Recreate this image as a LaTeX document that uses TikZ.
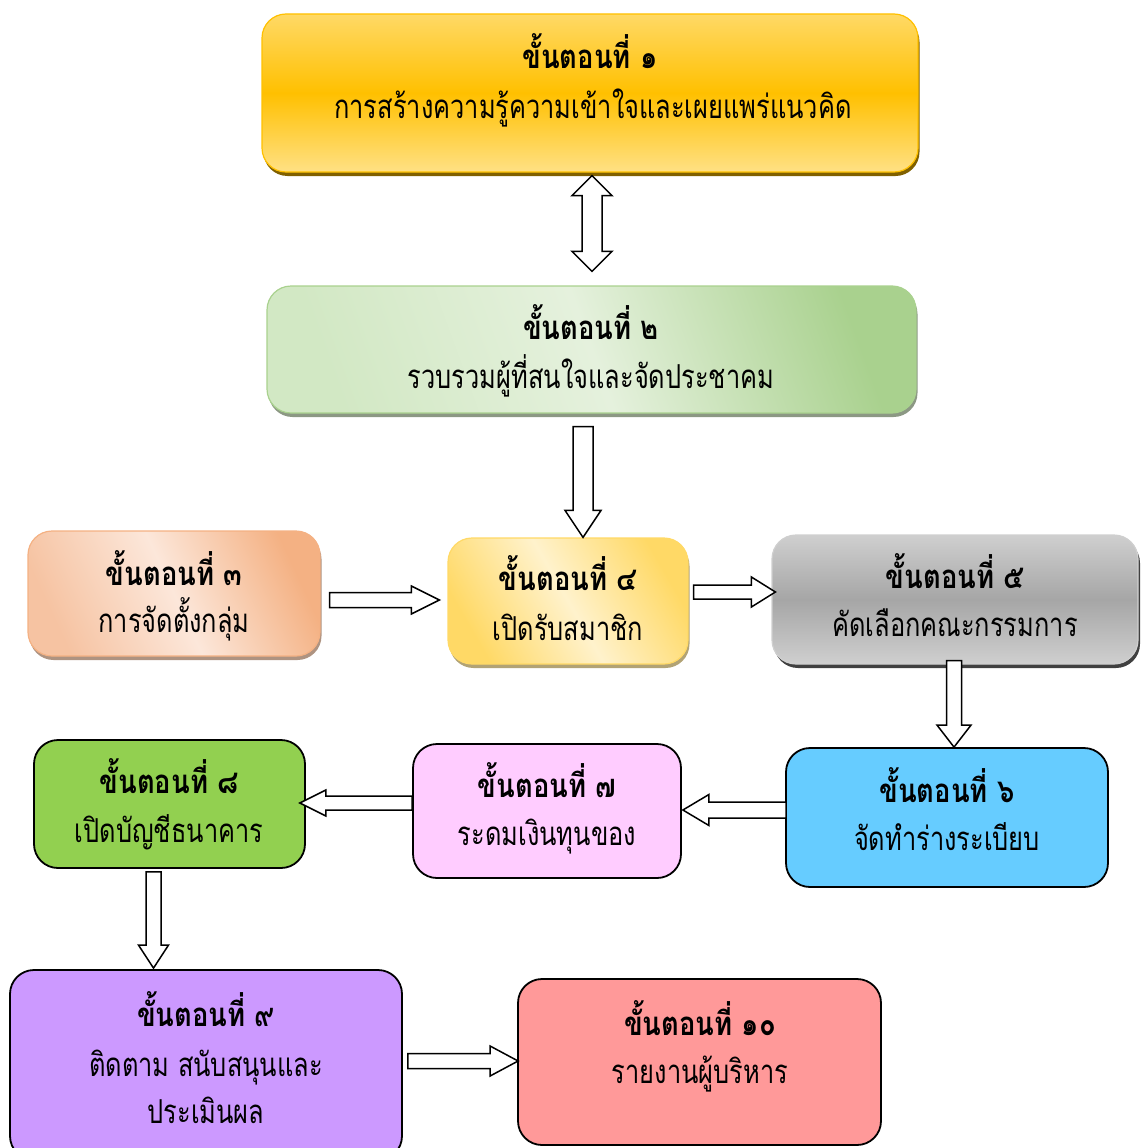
\documentclass[tikz,border=0pt]{standalone}
\usepackage{fontspec}
\newfontfamily\thai[Script=Thai, FakeStretch=0.77]{Loma}
\newfontfamily\thaititle[Script=Thai, FakeStretch=0.83]{Loma}
\usetikzlibrary{calc,shadows}

\definecolor{yA}{HTML}{FFD966}
\definecolor{yB}{HTML}{FFC000}
\definecolor{yS}{HTML}{806000}
\definecolor{gA}{HTML}{A9D18E}
\definecolor{gB}{HTML}{E5F1DD}
\definecolor{gC}{HTML}{D2E8C4}
\definecolor{oA}{HTML}{F4B183}
\definecolor{oB}{HTML}{FCE7DA}
\definecolor{oC}{HTML}{F6C3A2}
\definecolor{lyA}{HTML}{FFD966}
\definecolor{lyB}{HTML}{FFF2CC}
\definecolor{gyA}{HTML}{CFCFCF}
\definecolor{gyB}{HTML}{A6A6A6}
\definecolor{gyS}{HTML}{404040}
\definecolor{cSix}{HTML}{66CCFF}
\definecolor{cSeven}{HTML}{FFCCFF}
\definecolor{cEight}{HTML}{92D050}
\definecolor{cNine}{HTML}{CC99FF}
\definecolor{cTen}{HTML}{FF9999}

\tikzset{
  stepbox/.style={rounded corners=24pt, inner sep=0pt},
  plainbox/.style={stepbox, draw=black, line width=1.8pt},
  titletext/.style={font=\thaititle\bfseries\fontsize{33}{38}\selectfont, anchor=base, inner sep=0pt},
  bodytext/.style={font=\thai\fontsize{33}{38}\selectfont, anchor=base, inner sep=0pt},
  blockarrow/.style={draw=black, fill=white, line width=1.5pt, line join=miter},
}

% single block arrow: #1 from, #2 to (tip), #3 shaft half width, #4 head half width, #5 head length
\newcommand\blockarr[5]{%
  \path[blockarrow] let \p1=(#1), \p2=(#2), \n1={atan2(\y2-\y1,\x2-\x1)} in
    ($(\p1)+(\n1+90:#3pt)$) --
    ($(\p2)+(\n1+180:#5pt)+(\n1+90:#3pt)$) --
    ($(\p2)+(\n1+180:#5pt)+(\n1+90:#4pt)$) --
    (\p2) --
    ($(\p2)+(\n1+180:#5pt)+(\n1-90:#4pt)$) --
    ($(\p2)+(\n1+180:#5pt)+(\n1-90:#3pt)$) --
    ($(\p1)+(\n1-90:#3pt)$) -- cycle;}

% double block arrow
\newcommand\dblockarr[5]{%
  \path[blockarrow] let \p1=(#1), \p2=(#2), \n1={atan2(\y2-\y1,\x2-\x1)} in
    (\p1) --
    ($(\p1)+(\n1:#5pt)+(\n1+90:#4pt)$) --
    ($(\p1)+(\n1:#5pt)+(\n1+90:#3pt)$) --
    ($(\p2)+(\n1+180:#5pt)+(\n1+90:#3pt)$) --
    ($(\p2)+(\n1+180:#5pt)+(\n1+90:#4pt)$) --
    (\p2) --
    ($(\p2)+(\n1+180:#5pt)+(\n1-90:#4pt)$) --
    ($(\p2)+(\n1+180:#5pt)+(\n1-90:#3pt)$) --
    ($(\p1)+(\n1:#5pt)+(\n1-90:#3pt)$) --
    ($(\p1)+(\n1:#5pt)+(\n1-90:#4pt)$) -- cycle;}

\begin{document}
\begin{tikzpicture}[x=1pt,y=-1pt]
\useasboundingbox (0,0) rectangle (1141,1148);

% ---------- boxes ----------
\node[stepbox, draw=yB, line width=1.2pt, top color=yA, bottom color=yA!80!white, middle color=yB,
      drop shadow={shadow xshift=1.5pt, shadow yshift=-4pt, fill=yS, opacity=1},
      minimum width=656, minimum height=158] (b1) at (590,93) {};
\node[stepbox, draw=gA, line width=1.2pt, top color=gA, bottom color=gC, middle color=gB, shading angle=-70,
      drop shadow={shadow xshift=1.5pt, shadow yshift=-4pt, fill=gray!70!gA, opacity=1},
      minimum width=649, minimum height=127] (b2) at (591.5,349.5) {};
\node[stepbox, draw=oA, line width=1.2pt, top color=oA, bottom color=oC, middle color=oB, shading angle=-65,
      drop shadow={shadow xshift=1.5pt, shadow yshift=-4pt, fill=gray!60!oA, opacity=1},
      minimum width=292, minimum height=125] (b3) at (174,593.5) {};
\node[stepbox, draw=lyA, line width=1.2pt, top color=lyA, bottom color=lyA, middle color=lyB, shading angle=-60,
      drop shadow={shadow xshift=1.5pt, shadow yshift=-4pt, fill=gray!60!lyA, opacity=1},
      minimum width=240, minimum height=126] (b4) at (568,601) {};
\node[stepbox, draw=gyA, line width=1.2pt, top color=gyA, bottom color=gyA, middle color=gyB,
      drop shadow={shadow xshift=2pt, shadow yshift=-4pt, fill=gyS, opacity=1},
      minimum width=366, minimum height=129] (b5) at (955,599.5) {};
\node[plainbox, fill=cSix, minimum width=322, minimum height=139] (b6) at (947,817.5) {};
\node[plainbox, fill=cSeven, minimum width=268, minimum height=134] (b7) at (547,811) {};
\node[plainbox, fill=cEight, minimum width=271, minimum height=128] (b8) at (169.5,804) {};
\node[plainbox, fill=cNine, minimum width=392, minimum height=190] (b9) at (206,1065) {};
\node[plainbox, fill=cTen, minimum width=363, minimum height=166] (b10) at (699.5,1062) {};

% ---------- texts ----------
\node[titletext] (t1) at (590,68) {ขั้นตอนที่ ๑};
\node[bodytext]  (s1) at (593,118) {การสร้างความรู้ความเข้าใจและเผยแพร่แนวคิด};
\node[titletext] (t2) at (591,339) {ขั้นตอนที่ ๒};
\node[bodytext]  (s2) at (591,388) {รวบรวมผู้ที่สนใจและจัดประชาคม};
\node[titletext] (t3) at (174,585) {ขั้นตอนที่ ๓};
\node[bodytext]  (s3) at (174,632) {การจัดตั้งกลุ่ม};
\node[titletext] (t4) at (568,590) {ขั้นตอนที่ ๔};
\node[bodytext]  (s4) at (568,640) {เปิดรับสมาชิก};
\node[titletext] (t5) at (955,588) {ขั้นตอนที่ ๕};
\node[bodytext]  (s5) at (955,636) {คัดเลือกคณะกรรมการ};
\node[titletext] (t6) at (947,802) {ขั้นตอนที่ ๖};
\node[bodytext]  (s6) at (947,850) {จัดทำร่างระเบียบ};
\node[titletext] (t7) at (547,797) {ขั้นตอนที่ ๗};
\node[bodytext]  (s7) at (547,845) {ระดมเงินทุนของ};
\node[titletext] (t8) at (169,793) {ขั้นตอนที่ ๘};
\node[bodytext]  (s8) at (169,842) {เปิดบัญชีธนาคาร};
\node[titletext] (t9) at (206,1026) {ขั้นตอนที่ ๙};
\node[bodytext]  (s9) at (206,1076) {ติดตาม สนับสนุนและ};
\node[bodytext]  (u9) at (206,1123) {ประเมินผล};
\node[titletext] (t10) at (700,1035) {ขั้นตอนที่ ๑๐};
\node[bodytext]  (s10) at (700,1083) {รายงานผู้บริหาร};

% ---------- connectors ----------
\coordinate (d12a) at ($(b1.south)+(2,3)$);
\coordinate (d12b) at ($(b2.north)+(0.5,-14)$);
\dblockarr{d12a}{d12b}{10}{20}{20}

\coordinate (a24a) at ($(b2.south)+(-8.5,13)$);
\coordinate (a24b) at ($(b4.north)+(15,0)$);
\blockarr{a24a}{a24b}{10}{18}{27}

\coordinate (a34a) at ($(b3.east)+(9,6.5)$);
\coordinate (a34b) at ($(b4.west)+(-8,-1)$);
\blockarr{a34a}{a34b}{7.5}{14}{28}

\coordinate (a45a) at ($(b4.east)+(5,-9)$);
\coordinate (a45b) at ($(b5.west)+(4,-7.5)$);
\blockarr{a45a}{a45b}{7}{15}{24}

\coordinate (a56a) at ($(b5.south)+(-1,-4)$);
\coordinate (a56b) at ($(b6.north)+(7,0)$);
\blockarr{a56a}{a56b}{7.5}{17}{22}

\coordinate (a67a) at ($(b6.west)+(1,-7.5)$);
\coordinate (a67b) at ($(b7.east)+(1,-1)$);
\blockarr{a67a}{a67b}{8}{15.5}{26}

\coordinate (a78a) at ($(b7.west)+(0,-8)$);
\coordinate (a78b) at ($(b8.east)+(-6,-1)$);
\blockarr{a78a}{a78b}{7}{13}{26}

\coordinate (a89a) at ($(b8.south)+(-16,3)$);
\coordinate (a89b) at ($(b9.north)+(-52.5,-1)$);
\blockarr{a89a}{a89b}{7.5}{15}{23}

\coordinate (a910a) at ($(b9.east)+(5,-4)$);
\coordinate (a910b) at ($(b10.west)+(1,-1)$);
\blockarr{a910a}{a910b}{7.5}{15}{28}

\end{tikzpicture}
\end{document}
